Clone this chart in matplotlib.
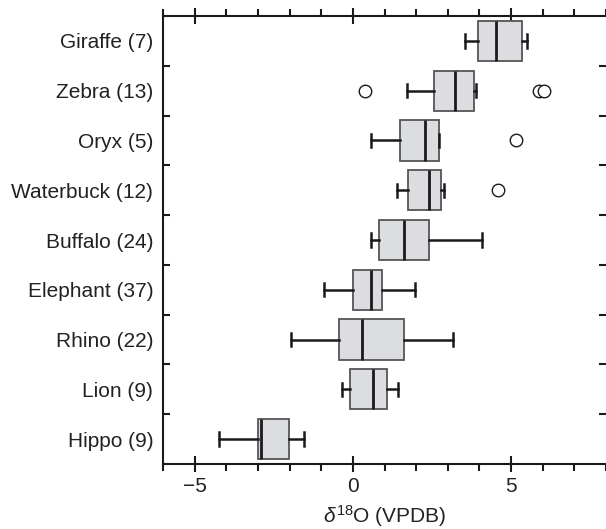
#import all the things
import matplotlib
matplotlib.use("Agg")
import matplotlib.pyplot as plt
from matplotlib.ticker import MultipleLocator, FixedLocator

plt.rcParams['font.family'] = ['Liberation Sans', 'DejaVu Sans']
plt.rcParams['mathtext.fontset'] = 'custom'
plt.rcParams['mathtext.rm'] = 'Liberation Sans'
plt.rcParams['mathtext.it'] = 'Liberation Sans:italic'

#data (bottom to top)
labels = ["Hippo (9)", "Lion (9)", "Rhino (22)", "Elephant (37)", "Buffalo (24)",
          "Waterbuck (12)", "Oryx (5)", "Zebra (13)", "Giraffe (7)"]
whislo = [-4.23, -0.34, -1.96, -0.90, 0.56, 1.40, 0.58, 1.71, 3.53]
q1 = [-2.99, -0.09, -0.44, 0.02, 0.84, 1.73, 1.50, 2.55, 3.95]
med = [-2.90, 0.63, 0.29, 0.56, 1.62, 2.40, 2.27, 3.22, 4.52]
q3 = [-2.01, 1.08, 1.62, 0.92, 2.40, 2.80, 2.71, 3.82, 5.34]
whishi = [-1.54, 1.44, 3.16, 1.96, 4.07, 2.89, 2.71, 3.90, 5.50]
fliers = [[], [], [], [], [], [4.58], [5.15], [0.37, 5.89, 6.03], []]

stats = []
for i in range(len(labels)):
    stats.append({"label": labels[i], "whislo": whislo[i], "q1": q1[i], "med": med[i],
                  "q3": q3[i], "whishi": whishi[i], "fliers": fliers[i]})

fig = plt.figure(figsize=(6.06, 5.29), dpi=100)
ax = fig.add_axes([163/606, 1-464/529, 1-163/606, (464-16)/529])

pos = list(range(len(labels)))
ax.bxp(stats, positions=pos, vert=False, widths=0.81, capwidths=0.27,
       patch_artist=True,
       boxprops=dict(facecolor="#dcdde0", edgecolor="#555555", linewidth=1.3),
       medianprops=dict(color="#1a1a1a", linewidth=2),
       whiskerprops=dict(color="#1a1a1a", linewidth=1.8),
       capprops=dict(color="#1a1a1a", linewidth=1.8),
       flierprops=dict(marker="o", markerfacecolor="white", markeredgecolor="#1a1a1a",
                       markersize=9, markeredgewidth=1))

ax.set_xlim(-6, 8)
ax.set_ylim(-0.5, 8.5)

#x ticks top and bottom
ax.xaxis.set_major_locator(FixedLocator([-5, 0, 5]))
ax.xaxis.set_minor_locator(MultipleLocator(1))
ax.tick_params(axis="x", which="major", direction="inout", length=11, width=1.5,
               top=True, bottom=True, labelsize=15, pad=4, color="#1a1a1a",
               labelcolor="#222222")
ax.tick_params(axis="x", which="minor", direction="out", length=5, width=1.5,
               top=True, bottom=True, color="#1a1a1a")

#y labels at centres, tick marks between categories
ax.yaxis.set_major_locator(FixedLocator(pos))
ax.set_yticklabels(labels)
ax.yaxis.set_minor_locator(FixedLocator([p + 0.5 for p in pos[:-1]]))
ax.tick_params(axis="y", which="major", length=0, labelsize=15, pad=7,
               labelcolor="#222222")
ax.tick_params(axis="y", which="minor", direction="in", length=5, width=1.5,
               left=True, right=True, color="#1a1a1a")

for s in ["left", "top", "bottom"]:
    ax.spines[s].set_linewidth(1.5)
    ax.spines[s].set_color("#1a1a1a")
ax.spines["right"].set_visible(False)

ax.set_xlabel(r"$\delta^{\mathrm{18}}$O (VPDB)", fontsize=15, labelpad=5, color="#222222")

plt.savefig("out.png", dpi=100)
